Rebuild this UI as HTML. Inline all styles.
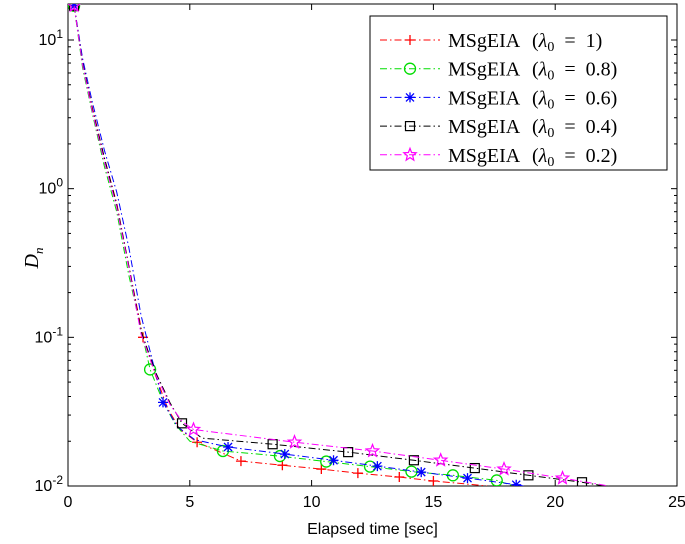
<!DOCTYPE html>
<html><head><meta charset="utf-8"><style>
body{margin:0;background:#fff;}
svg{display:block;}
.ax{font-family:"Liberation Sans",sans-serif;font-size:16px;fill:#000;}
.lg{font-family:"Liberation Serif",serif;font-size:20px;fill:#000;}
</style></head><body>
<svg id="c" width="685" height="544"></svg>
<script>
const xTicks=[0,5,10,15,20,25];
const yDecades=[-2,-1,0,1];
const seriesNames=["MSgEIA (λ0 = 1)","MSgEIA (λ0 = 0.8)","MSgEIA (λ0 = 0.6)","MSgEIA (λ0 = 0.4)","MSgEIA (λ0 = 0.2)"];
const seriesColors=["#ff0000","#00dd00","#0000ff","#000000","#ff00ff"];
const redX=[0.25,0.6,1,1.5,2,2.5,3.08,3.6,4.1,4.6,5.3,7.1,8.8,10.4,11.9,13.6,15.0,16.4,17.2];
const redY=[17,7,3.5,1.6,0.8,0.3,0.1,0.055,0.033,0.024,0.0197,0.0147,0.0138,0.013,0.0122,0.0115,0.0108,0.0103,0.01];
const greenX=[0.25,0.6,1,1.5,2,2.5,3.37,3.9,4.4,5.0,6.36,8.7,10.6,12.4,14.1,15.8,17.6,18.3];
const greenY=[17,6.5,3.2,1.4,0.7,0.26,0.0608,0.037,0.026,0.02,0.0172,0.0159,0.0146,0.0135,0.0125,0.0118,0.0109,0.01];
const blueX=[0.25,0.6,1,1.5,2,2.5,3.0,3.9,4.5,5.2,6.57,8.9,10.9,12.7,14.5,16.4,18.4,18.7];
const blueY=[17,7.5,3.8,1.8,0.95,0.4,0.14,0.0365,0.025,0.0205,0.0183,0.0164,0.0149,0.0136,0.0124,0.0113,0.0102,0.01];
const blackX=[0.25,0.6,1,1.5,2,2.5,3.0,3.6,4.2,4.68,5.5,8.4,11.5,14.2,16.7,18.9,21.1,22.0];
const blackY=[17,7,3.4,1.6,0.78,0.3,0.11,0.058,0.036,0.0264,0.021,0.0191,0.0169,0.0149,0.0132,0.0118,0.0106,0.01];
const magX=[0.25,0.6,1,1.5,2,2.5,3.0,3.6,4.2,4.7,5.15,9.3,12.5,15.3,17.9,20.3,22.2];
const magY=[17,6.8,3.3,1.5,0.75,0.29,0.105,0.056,0.035,0.027,0.024,0.0197,0.0172,0.0149,0.013,0.0113,0.01];
const redM=[0,6,10,11,12,13,14,15,16];
const greenM=[0,6,10,11,12,13,14,15,16];
const blueM=[0,7,10,11,12,13,14,15,16];
const blackM=[0,9,11,12,13,14,15,16];
const magM=[0,10,11,12,13,14,15];

const L=68,R=677,T=4,B=486;
const X=v=>L+(v/25)*(R-L);
const DEC=(B-40)/3;
const Y=v=>B-(Math.log10(v)+2)*DEC;
const svg=document.getElementById('c');
const NS="http://www.w3.org/2000/svg";
function mk(t,a,p){const e=document.createElementNS(NS,t);for(const k in a)e.setAttribute(k,a[k]);(p||svg).appendChild(e);return e;}
const defs=mk('defs',{});const cp=mk('clipPath',{id:'clp'},defs);mk('rect',{x:L,y:T,width:R-L,height:B-T},cp);
let box=mk('rect',{x:L,y:T,width:R-L,height:B-T,fill:'none',stroke:'#000','stroke-width':1});


xTicks.forEach(t=>{
  mk('line',{x1:X(t),x2:X(t),y1:B,y2:B-6,stroke:'#000'});
  mk('line',{x1:X(t),x2:X(t),y1:T,y2:T+6,stroke:'#000'});
  const tx=mk('text',{x:X(t),y:B+21,'text-anchor':'middle',class:'ax'});tx.textContent=t;
  
  
});
yDecades.forEach(d=>{
  const y=Y(Math.pow(10,d));
  mk('line',{x1:L,x2:L+6,y1:y,y2:y,stroke:'#000'});
  mk('line',{x1:R,x2:R-6,y1:y,y2:y,stroke:'#000'});
  for(let m=2;m<10;m++){const v=m*Math.pow(10,d);const yy=Y(v);if(yy<T)continue;
    mk('line',{x1:L,x2:L+3,y1:yy,y2:yy,stroke:'#000'});mk('line',{x1:R,x2:R-3,y1:yy,y2:yy,stroke:'#000'});}
  const tx=mk('text',{x:L-5,y:y+5,'text-anchor':'end',class:'ax'});
  tx.innerHTML='10<tspan dy="-7" font-size="12">'+d+'</tspan>';
  
  
});
let xl=mk('text',{x:(L+R)/2,y:534,'text-anchor':'middle',class:'ax'});xl.textContent='Elapsed time [sec]';


let yl=mk('text',{x:0,y:0,transform:'translate(38,258) rotate(-90)','text-anchor':'middle',class:'lg','font-style':'italic'});
yl.innerHTML='D<tspan dy="5" font-size="13">n</tspan>';



function marker(i,cx,cy,g){const c=seriesColors[i];const s=5;
  if(i==0){mk('path',{d:`M${cx-s} ${cy}H${cx+s}M${cx} ${cy-s}V${cy+s}`,stroke:c,'stroke-width':1.3,fill:'none'},g);}
  else if(i==1){mk('circle',{cx,cy,r:5.5,stroke:c,'stroke-width':1.3,fill:'none'},g);}
  else if(i==2){mk('path',{d:`M${cx-s} ${cy}H${cx+s}M${cx} ${cy-s}V${cy+s}M${cx-4} ${cy-4}L${cx+4} ${cy+4}M${cx-4} ${cy+4}L${cx+4} ${cy-4}`,stroke:c,'stroke-width':1.3,fill:'none'},g);}
  else if(i==3){mk('rect',{x:cx-4.5,y:cy-4.5,width:9,height:9,stroke:c,'stroke-width':1.2,fill:'none'},g);}
  else {let p='';for(let k=0;k<10;k++){const r=k%2?2.8:6.5;const a=-Math.PI/2+k*Math.PI/5;p+=(k?'L':'M')+(cx+r*Math.cos(a)).toFixed(1)+' '+(cy+r*Math.sin(a)).toFixed(1);}
    mk('path',{d:p+'Z',stroke:c,'stroke-width':1.2,fill:'none'},g);}
}
const all=[[redX,redY,redM],[greenX,greenY,greenM],[blueX,blueY,blueM],[blackX,blackY,blackM],[magX,magY,magM]];
const names=['series-red','series-green','series-blue','series-black','series-magenta'];
all.forEach((s,i)=>{
  const g=mk('g',{'clip-path':'url(#clp)'});
  
  
  const d=s[0].map((x,j)=>(j?'L':'M')+X(x).toFixed(1)+' '+Y(s[1][j]).toFixed(1)).join('');
  mk('path',{d,stroke:seriesColors[i],fill:'none','stroke-width':1,'stroke-dasharray':'7 3 1.5 3'},g);
  s[2].forEach(j=>marker(i,X(s[0][j]),Y(s[1][j]),g));
});
const lg=mk('g',{});


mk('rect',{x:370,y:16,width:297,height:154,fill:'#fff',stroke:'#000'},lg);
seriesNames.forEach((n,i)=>{
  const y=40+i*28.7;
  const e=mk('g',{},lg);
  
  
  mk('line',{x1:380,x2:440,y1:y,y2:y,stroke:seriesColors[i],'stroke-dasharray':'7 3 1.5 3'},e);
  marker(i,410,y,e);
  const parts=n.split('λ0');
  const t1=mk('text',{x:448,y:y+7,class:'lg'},e);t1.textContent='MSgEIA';
  const t2=mk('text',{x:532,y:y+7,class:'lg'},e);
  t2.innerHTML='(<tspan font-style="italic">λ</tspan><tspan dy="4" font-size="14">0</tspan><tspan dy="-4" word-spacing="5"> '+parts[1]+'</tspan>';
});
</script>
</body></html>
